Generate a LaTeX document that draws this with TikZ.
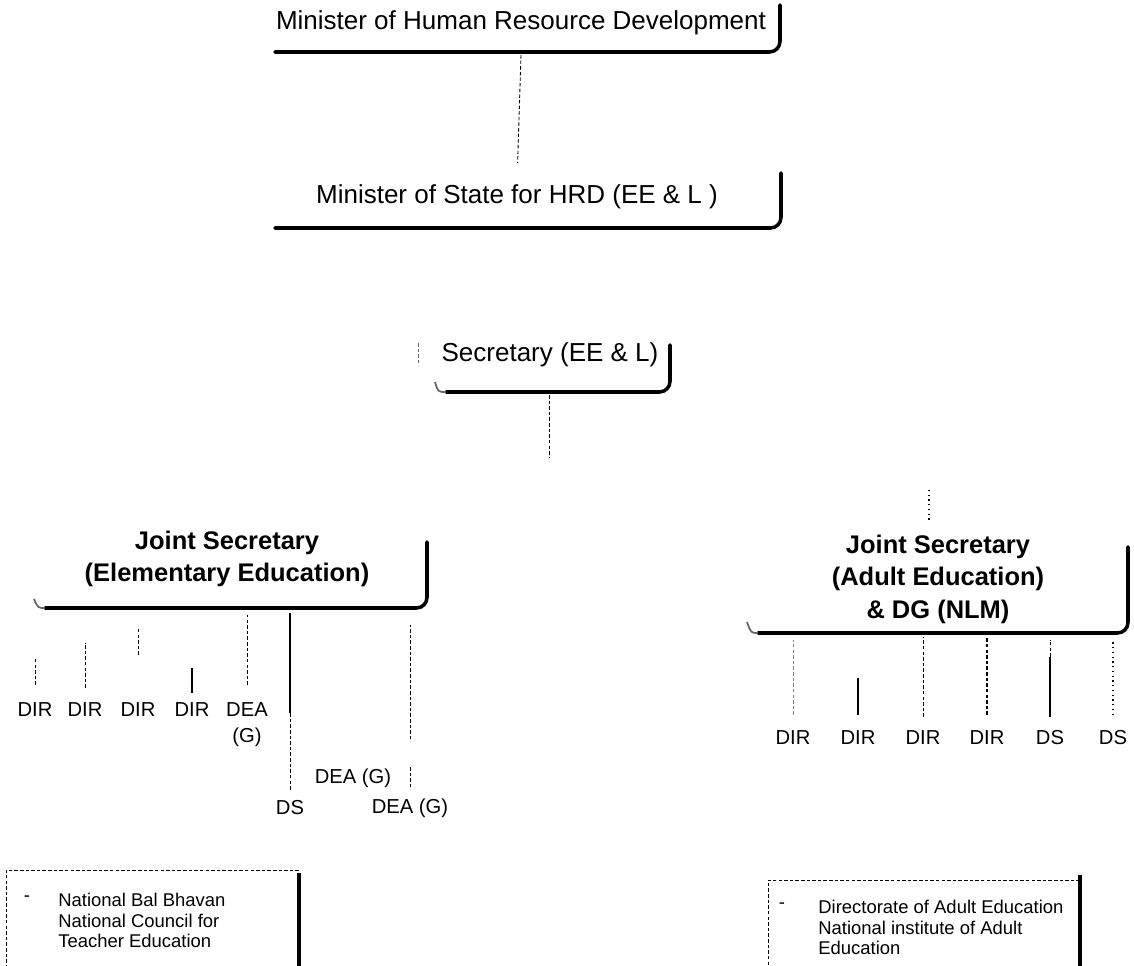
\documentclass[tikz,border=0pt]{standalone}
\usepackage{fontspec}
\setmainfont{Liberation Sans}
\usetikzlibrary{positioning}
\tikzstyle{title} = [font=\fontsize{14.8}{17}\selectfont, inner sep=1pt]
\tikzstyle{jstitle} = [font=\fontsize{14.5}{18.5}\selectfont\bfseries, align=center, inner sep=1pt]
\tikzstyle{post} = [font=\fontsize{11.5}{13}\selectfont, inner sep=1pt]
\tikzstyle{unit} = [font=\fontsize{10.5}{11.7}\selectfont, align=left, anchor=north west, inner sep=0pt]
\tikzstyle{bracket} = [line width=2pt, rounded corners=6pt, line cap=round]
\tikzstyle{curl} = [line width=1pt, black!60]
\tikzstyle{link} = [line width=0.5pt, dash pattern=on 2pt off 1.2pt]
\tikzstyle{solidlink} = [line width=0.8pt]
\tikzstyle{dotlink} = [line width=0.7pt, dotted]

\begin{document}
\begin{tikzpicture}[x=0.02cm, y=-0.02cm]
    \useasboundingbox (0,0) rectangle (1134,966);

    % Ministers
    \node[title] (mhrd) at (521,23) {Minister of Human Resource Development};
    \draw[bracket] (780,5) -- (780,52) -- (275,52);
    \coordinate (mhrd-b) at (521,55);
    \node[title] (mos) at (517,197) {Minister of State for HRD (EE \& L )};
    \draw[bracket] (781,173) -- (781,228) -- (275,228);
    \draw[link, shorten >=0.4cm] (mhrd-b) -- (mos.north);

    % Secretary
    \node[title] (sec) at (550,355) {Secretary (EE \& L)};
    \draw[bracket] (670,345) -- (670,392) -- (446,392);
    \draw[curl] (446,392) .. controls (438,392) .. (435,382);
    \draw[link, black!60] (418,343) -- (418,364);
    \coordinate (sec-b) at (549,395);
    \draw[link] (sec-b) -- ++(0,62);

    % Joint Secretary (EE)
    \node[jstitle] (jsee) at (227,559) {Joint Secretary\\(Elementary Education)};
    \draw[bracket] (427,542) -- (427,608) -- (45,608);
    \draw[curl] (45,608) .. controls (38,608) .. (34,599);

    % Joint Secretary (AE)
    \node[jstitle] (jsae) at (938,579) {Joint Secretary\\(Adult Education)\\\& DG (NLM)};
    \draw[bracket] (1128,547) -- (1128,633) -- (758,633);
    \draw[curl] (758,633) .. controls (751,633) .. (747,622);
    \coordinate (ae-top) at (929,490);
    \draw[dotlink] (ae-top) -- ++(0,33);

    % Posts under EE
    \foreach \name/\x/\txt in {e1/35/DIR, e2/85/DIR, e3/138/DIR, e4/192/DIR, e5/247/DEA}
        \node[post] (\name) at (\x,710) {\txt};
    \node[post, below=4pt of e5] (e5g) {(G)};
    \node[post] (e6) at (353,778) {DEA (G)};
    \node[post] (e7) at (290,808) {DS};
    \node[post] (e8) at (410,808) {DEA (G)};

    \foreach \name/\g/\l in {e1/16/28, e2/13/45, e3/46/27, e5/16/70}
        \draw[link] (\name.north) ++(0,-\g) -- ++(0,-\l);
    \draw[solidlink] (e4.north) ++(0,-8) -- ++(0,-25);
    \draw[link] (e7.north) ++(0,-9) -- ++(0,-77);
    \draw[solidlink] (e7.north) ++(0,-86) -- ++(0,-100);
    \draw[link] (e8.north) ++(0,-9) -- ++(0,-22);
    \draw[link] (e8.north) ++(0,-57) -- ++(0,-114);

    % Posts under AE
    \foreach \name/\x/\txt in {a1/793/DIR, a2/858/DIR, a3/923/DIR, a4/987/DIR, a5/1050/DS, a6/1113/DS}
        \node[post] (\name) at (\x,738) {\txt};
    \draw[link, black!50] (a1.north) ++(0,-14) -- ++(0,-75);
    \draw[solidlink] (a2.north) ++(0,-14) -- ++(0,-37);
    \draw[link] (a3.north) ++(0,-12) -- ++(0,-80);
    \draw[link, line width=1pt] (a4.north) ++(0,-14) -- ++(0,-78);
    \draw[solidlink] (a5.north) ++(0,-12) -- ++(0,-60);
    \draw[link] (a5.north) ++(0,-72) -- ++(0,-17);
    \draw[dotlink] (a6.north) ++(0,-14) -- ++(0,-75);

    % Attached bodies
    \draw[link] (299,870) -- (6,870) -- (6,966);
    \draw[line width=2.5pt] (299,873) -- (299,966);
    \node[font=\fontsize{10.5}{12}\selectfont, inner sep=0pt] (b1) at (27,899) {-};
    \node[unit] (nbb) at (58,893) {National Bal Bhavan\\National Council for\\Teacher Education};

    \draw[link] (1080,880) -- (768,880) -- (768,966);
    \draw[line width=2.5pt] (1080,875) -- (1080,966);
    \node[font=\fontsize{10.5}{12}\selectfont, inner sep=0pt] (b2) at (782,906) {-};
    \node[unit] (dae) at (818,900) {Directorate of Adult Education\\National institute of Adult\\Education};
\end{tikzpicture}
\end{document}
